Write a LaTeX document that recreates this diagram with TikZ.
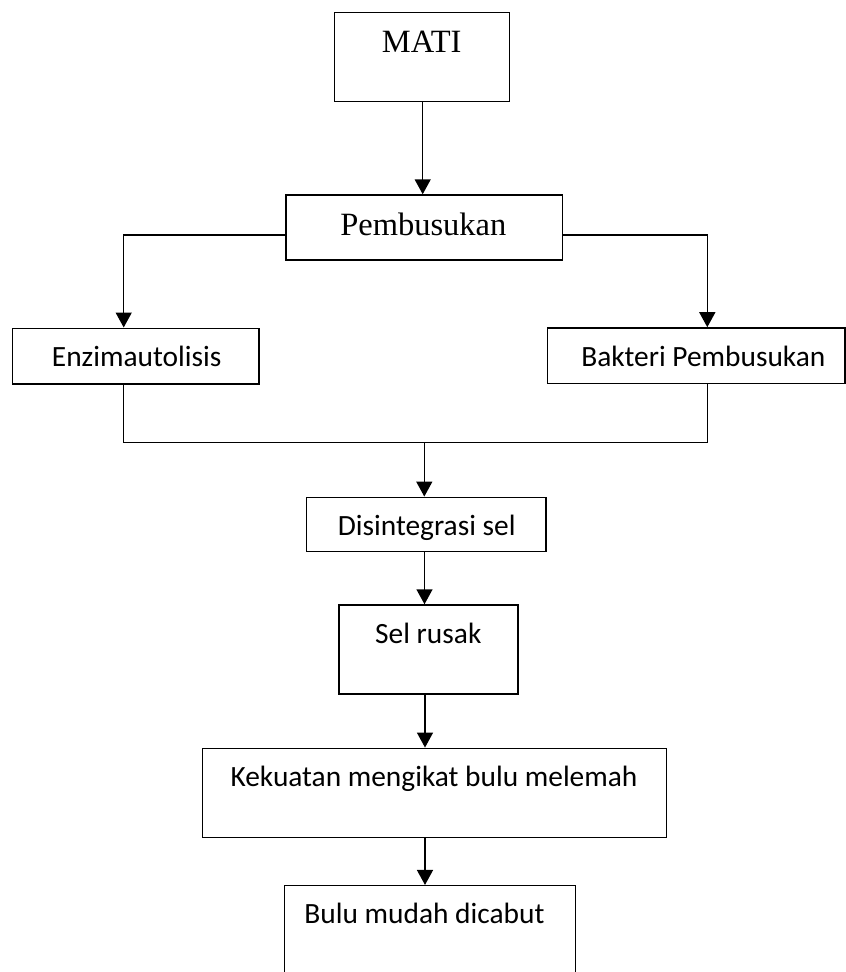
\documentclass[tikz,border=0pt]{standalone}
\usepackage{fontspec}
\setmainfont{Liberation Serif}
\newfontfamily\calfont{Carlito}
\usetikzlibrary{arrows.meta}
\begin{document}
\begin{tikzpicture}[x=1pt,y=-1pt,
  box/.style={draw,line width=1.5pt,rectangle,inner sep=0pt},
  serif/.style={anchor=base,inner sep=0pt,font=\fontsize{32.5}{38}\selectfont},
  sans/.style={anchor=base,inner sep=0pt,font=\calfont\fontsize{29.4}{34}\selectfont},
  arr/.style={line width=1.5pt,-{Triangle[length=15pt,width=16pt]}},
  ln/.style={line width=1.5pt}]
\clip (0,0) rectangle (846,972);
\fill[white] (0,0) rectangle (846,972);
% boxes
\node[box,minimum width=175pt,minimum height=89.4pt] (mati) at (421.8,57) {};
\node[box,minimum width=276.5pt,minimum height=65pt] (pemb) at (424.2,227.5) {};
\node[box,minimum width=246.3pt,minimum height=55.7pt] (enz) at (135.8,356.1) {};
\node[box,minimum width=297.5pt,minimum height=55.5pt] (bak) at (696.1,355.7) {};
\node[box,minimum width=239.3pt,minimum height=54.4pt] (dis) at (426.3,524.5) {};
\node[box,minimum width=179pt,minimum height=89pt] (sel) at (428.7,649.5) {};
\node[box,minimum width=464pt,minimum height=89pt] (kek) at (434.7,792.8) {};
\node[box,minimum width=291pt,minimum height=120pt] (bulu) at (429.8,945.7) {};
% texts
\node[serif] (tmati) at (421.7,52.7) {MATI};
\node[serif] (tpemb) at (423.3,235) {Pembusukan};
\node[sans] (tenz) at (136.7,366.7) {Enzimautolisis};
\node[sans] (tbak) at (703.3,366.7) {Bakteri Pembusukan};
\node[sans] (tdis) at (426.7,535) {Disintegrasi sel};
\node[sans] (tsel) at (428.3,643.3) {Sel rusak};
\node[sans] (tkek) at (434,786.7) {Kekuatan mengikat bulu melemah};
\node[sans] (tbulu) at (424.5,923.3) {Bulu mudah dicabut};
% junction coordinates
\coordinate (jl) at (123.7,442.7);
\coordinate (jr) at (707.3,442.7);
\coordinate (jc) at (424.3,442.7);
% connectors
\draw[arr] (422.7,0 |- mati.south) -- (422.7,0 |- pemb.north);
\draw[arr] ([yshift=-7.5pt]pemb.west) -| (jl |- enz.north);
\draw[arr] ([yshift=-7.5pt]pemb.east) -| (jr |- bak.north);
\draw[ln] (jl |- enz.south) -- (jl) -- (jr) -- (jr |- bak.south);
\draw[arr] (jc) -- (jc |- dis.north);
\draw[arr] (424.5,0 |- dis.south) -- (424.5,0 |- sel.north);
\draw[arr] (425,0 |- sel.south) -- (425,0 |- kek.north);
\draw[arr] (425,0 |- kek.south) -- (425,0 |- bulu.north);
\end{tikzpicture}
\end{document}
